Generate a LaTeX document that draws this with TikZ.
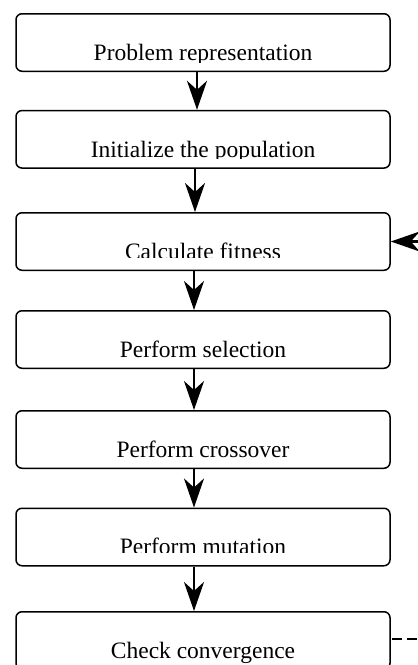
\documentclass[tikz,border=0pt]{standalone}
\usepackage{fontspec}
\setmainfont{Liberation Serif}
\usetikzlibrary{arrows.meta}
\begin{document}
\begin{tikzpicture}[x=1pt,y=-1pt,
  stepbox/.style={draw, line width=1.5pt, rounded corners=6pt, minimum width=374pt, minimum height=57.5pt, inner sep=0pt},
  label/.style={anchor=base, inner sep=0pt, font=\fontsize{23.5}{28}\selectfont},
  flow/.style={line width=2.6pt, -{Stealth[length=29pt, width=20pt, inset=9pt]}},
  loopdash/.style={line width=2.6pt, dash pattern=on 10pt off 5pt}]
\clip (0,0) rectangle (418,665);
\fill[white] (0,0) rectangle (418,665);
% boxes
\node[stepbox] (b1) at (203,42.5) {};
\node[stepbox] (b2) at (203,139.3) {};
\node[stepbox] (b3) at (203,241.5) {};
\node[stepbox] (b4) at (203,339.5) {};
\node[stepbox] (b5) at (203,439.5) {};
\node[stepbox] (b6) at (203,537) {};
\node[stepbox] (b7) at (203,640.5) {};
% labels (some clipped as in the reference)
\begin{scope}
  \clip (16,13) rectangle (390,62);
  \node[label] (t1) at (203,60) {Problem representation};
\end{scope}
\begin{scope}
  \clip (16,111) rectangle (390,158.5);
  \node[label] (t2) at (203,157) {Initialize the population};
\end{scope}
\begin{scope}
  \clip (16,213) rectangle (390,257.5);
  \node[label] (t3) at (203,259.5) {Calculate fitness};
\end{scope}
\node[label] (t4) at (203,357) {Perform selection};
\node[label] (t5) at (203,457) {Perform crossover};
\begin{scope}
  \clip (16,509) rectangle (390,552.5);
  \node[label] (t6) at (203,554.5) {Perform mutation};
\end{scope}
\node[label] (t7) at (203,658) {Check convergence};
% arrows
\coordinate (xa) at (197,0);
\coordinate (xb) at (195,0);
\coordinate (xc) at (194,0);
\draw[flow] (b1.south -| xa) -- (b2.north -| xa);
\draw[flow] (b2.south -| xb) -- (b3.north -| xb);
\draw[flow] (b3.south -| xc) -- (b4.north -| xc);
\draw[flow] (b4.south -| xc) -- (b5.north -| xc);
\draw[flow] (b5.south -| xc) -- (b6.north -| xc);
\draw[flow] (b6.south -| xc) -- (b7.north -| xc);
% loop back (continues outside the frame)
\coordinate (fbin) at (450,241.5);
\coordinate (fbout) at (440,639);
\draw[flow] (fbin) -- (b3.east);
\draw[loopdash] (b7.east |- fbout) ++(1.5,0) -- (fbout);
\end{tikzpicture}
\end{document}
